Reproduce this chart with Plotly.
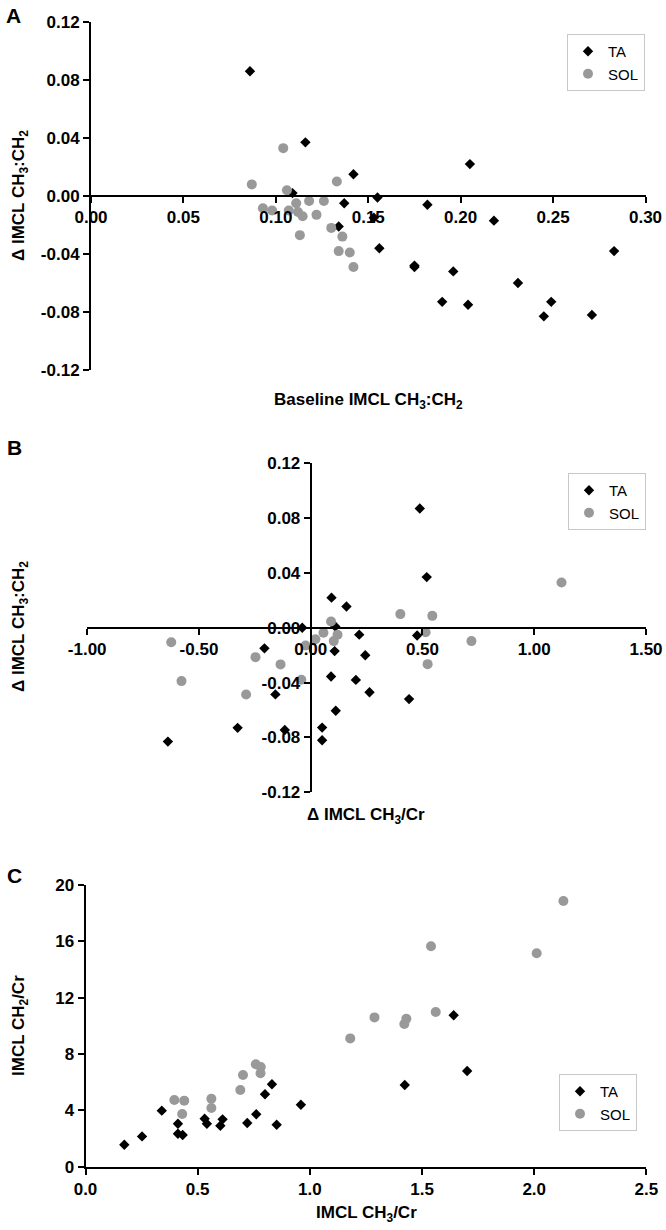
import plotly.graph_objects as go

# ---------------- data ----------------
A_TA_x = [0.086, 0.116, 0.142, 0.205, 0.155, 0.109, 0.137, 0.182, 0.153, 0.218, 0.134, 0.156,
          0.175, 0.175, 0.196, 0.231, 0.190, 0.204, 0.249, 0.245, 0.271, 0.283]
A_TA_y = [0.086, 0.037, 0.015, 0.022, -0.001, 0.002, -0.005, -0.006, -0.015, -0.017, -0.021, -0.036,
          -0.048, -0.049, -0.052, -0.060, -0.073, -0.075, -0.073, -0.083, -0.082, -0.038]
A_SOL_x = [0.087, 0.104, 0.106, 0.133, 0.093, 0.098, 0.107, 0.111, 0.112, 0.1145, 0.118, 0.122,
           0.126, 0.113, 0.130, 0.136, 0.134, 0.140, 0.142]
A_SOL_y = [0.008, 0.033, 0.004, 0.010, -0.0085, -0.010, -0.010, -0.005, -0.011, -0.014, -0.0035, -0.013,
           -0.0035, -0.027, -0.022, -0.028, -0.038, -0.039, -0.049]

B_TA_x = [0.488, 0.519, 0.093, 0.160, -0.038, 0.110, -0.207, 0.107, 0.217, 0.476, 0.244, 0.091,
          0.202, 0.263, -0.158, 0.440, 0.112, -0.327, -0.116, 0.051, -0.639, 0.051]
B_TA_y = [0.087, 0.037, 0.022, 0.0155, 0.000, 0.001, -0.015, -0.017, -0.005, -0.0056, -0.020, -0.0355,
          -0.038, -0.047, -0.0486, -0.052, -0.0605, -0.073, -0.0746, -0.0728, -0.083, -0.082]
B_SOL_x = [1.122, 0.401, 0.544, 0.091, -0.624, 0.057, 0.021, 0.120, 0.103, -0.023, 0.514, 0.719,
           -0.247, -0.135, 0.523, -0.042, -0.578, -0.289]
B_SOL_y = [0.033, 0.010, 0.0087, 0.0046, -0.0105, -0.0036, -0.0083, -0.0051, -0.0097, -0.0129, -0.0032,
           -0.0097, -0.0214, -0.0267, -0.0265, -0.0379, -0.0389, -0.0486]

C_TA_x = [0.173, 0.252, 0.340, 0.412, 0.412, 0.433, 0.531, 0.541, 0.601, 0.611, 0.721, 0.761,
          0.800, 0.831, 0.852, 0.960, 1.423, 1.641, 1.701]
C_TA_y = [1.56, 2.15, 3.98, 3.05, 2.34, 2.25, 3.41, 3.05, 2.91, 3.36, 3.10, 3.72,
          5.14, 5.85, 2.98, 4.40, 5.80, 10.75, 6.79]
C_SOL_x = [0.396, 0.440, 0.431, 0.561, 0.561, 0.690, 0.702, 0.759, 0.781, 0.780, 1.180, 1.288,
           1.421, 1.430, 1.561, 1.540, 2.011, 2.130]
C_SOL_y = [4.73, 4.69, 3.74, 4.83, 4.17, 5.44, 6.51, 7.27, 7.08, 6.63, 9.11, 10.60,
           10.13, 10.51, 10.98, 15.65, 15.15, 18.87]

A_xticks = [0.00, 0.05, 0.10, 0.15, 0.20, 0.25, 0.30]
AB_yticks = [-0.12, -0.08, -0.04, 0.00, 0.04, 0.08, 0.12]
B_xticks = [-1.00, -0.50, 0.00, 0.50, 1.00, 1.50]
C_xticks = [0.0, 0.5, 1.0, 1.5, 2.0, 2.5]
C_yticks = [0, 4, 8, 12, 16, 20]

series_names = ["TA", "SOL"]

# ---------------- layout helpers ----------------
W, H = 666, 1230
def px(x):
    return x / W
def py(y):
    return 1 - y / H

FONT = "Liberation Sans, Arial, sans-serif"
GRAY = "#999999"

def fmt(vals, d):
    return [f"{v:.{d}f}" for v in vals]

def free_pos(dom, rng, v=0.0):
    return dom[0] + (v - rng[0]) / (rng[1] - rng[0]) * (dom[1] - dom[0])

axis_common = dict(showgrid=False, zeroline=False, showline=True, linecolor="black", linewidth=2,
                   ticks="outside", ticklen=6, tickwidth=1.5, tickcolor="black", automargin=False,
                   tickfont=dict(family=FONT, size=17, color="black", weight="bold"))

A_xdom = [px(91), px(645.5)]; A_ydom = [py(370), py(22)]
B_xdom = [px(87.2), px(646)]; B_ydom = [py(792.3), py(463.3)]
C_xdom = [px(85.5), px(646.4)]; C_ydom = [py(1166.7), py(885)]

eps = 1e-6
A_xr = [0 - eps, 0.30 + eps]; A_yr = [-0.12 - eps, 0.12 + eps]
B_xr = [-1.0 - eps, 1.5 + eps]; B_yr = [-0.12 - eps, 0.12 + eps]
C_xr = [0 - eps, 2.5 + eps]; C_yr = [0 - eps, 20 + eps]

fig = go.Figure()

def add_pair(tx, ty, sx, sy, xa, ya, leg):
    fig.add_trace(go.Scatter(x=tx, y=ty, mode="markers", name=series_names[0], xaxis=xa, yaxis=ya,
                             legend=leg, marker=dict(symbol="diamond", size=8, color="black"),
                             cliponaxis=False))
    fig.add_trace(go.Scatter(x=sx, y=sy, mode="markers", name=series_names[1], xaxis=xa, yaxis=ya,
                             legend=leg, marker=dict(symbol="circle", size=10, color=GRAY),
                             cliponaxis=False))

add_pair(A_TA_x, A_TA_y, A_SOL_x, A_SOL_y, "x", "y", "legend")
add_pair(B_TA_x, B_TA_y, B_SOL_x, B_SOL_y, "x2", "y2", "legend2")
add_pair(C_TA_x, C_TA_y, C_SOL_x, C_SOL_y, "x3", "y3", "legend3")

legend_common = dict(font=dict(family=FONT, size=15, color="black"), bgcolor="white",
                     bordercolor="#c8c8c8", borderwidth=1, xanchor="right", yanchor="top",
                     itemwidth=30, tracegroupgap=0)

fig.update_layout(
    width=W, height=H, autosize=False,
    margin=dict(l=0, r=0, t=0, b=0, pad=0, autoexpand=False),
    paper_bgcolor="white", plot_bgcolor="white",
    showlegend=True,
    xaxis=dict(axis_common, domain=A_xdom, range=A_xr, anchor="free",
               position=free_pos(A_ydom, A_yr), tickvals=A_xticks, ticktext=fmt(A_xticks, 2)),
    yaxis=dict(axis_common, domain=A_ydom, range=A_yr, anchor="x",
               tickvals=AB_yticks, ticktext=fmt(AB_yticks, 2)),
    xaxis2=dict(axis_common, domain=B_xdom, range=B_xr, anchor="free",
                position=free_pos(B_ydom, B_yr), tickvals=B_xticks, ticktext=fmt(B_xticks, 2)),
    yaxis2=dict(axis_common, domain=B_ydom, range=B_yr, anchor="free",
                position=free_pos(B_xdom, B_xr), tickvals=AB_yticks, ticktext=fmt(AB_yticks, 2)),
    xaxis3=dict(axis_common, domain=C_xdom, range=C_xr, anchor="y3",
                tickvals=C_xticks, ticktext=fmt(C_xticks, 1)),
    yaxis3=dict(axis_common, domain=C_ydom, range=C_yr, anchor="x3",
                tickvals=C_yticks, ticktext=[str(v) for v in C_yticks]),
    legend=dict(legend_common, x=px(645), y=py(34)),
    legend2=dict(legend_common, x=px(646), y=py(473)),
    legend3=dict(legend_common, x=px(637), y=py(1074)),
)

title_font = dict(family=FONT, size=17, color="black", weight="bold")
ytitle = "\u0394 IMCL CH<sub>3</sub>:CH<sub>2</sub>"
annos = [
    dict(text="A", x=px(13), y=py(15)),
    dict(text="B", x=px(14), y=py(447)),
    dict(text="C", x=px(14), y=py(875)),
]
for a in annos:
    a.update(xref="paper", yref="paper", showarrow=False, xanchor="center", yanchor="middle",
             font=dict(family=FONT, size=21, color="black", weight="bold"))
titles = [
    dict(text=ytitle, x=px(20), y=py(196), textangle=-90),
    dict(text="Baseline IMCL CH<sub>3</sub>:CH<sub>2</sub>", x=px(368), y=py(401), textangle=0),
    dict(text=ytitle, x=px(20), y=py(627), textangle=-90),
    dict(text="\u0394 IMCL CH<sub>3</sub>/Cr", x=px(366), y=py(816), textangle=0),
    dict(text="IMCL CH<sub>2</sub>/Cr", x=px(20), y=py(1026), textangle=-90),
    dict(text="IMCL CH<sub>3</sub>/Cr", x=px(366), y=py(1214), textangle=0),
]
for t in titles:
    t.update(xref="paper", yref="paper", showarrow=False, xanchor="center", yanchor="middle",
             font=title_font)
fig.update_layout(annotations=annos + titles)

fig.write_html("out.html", config={"displayModeBar": False},
               post_script="document.body.style.margin='0';")
